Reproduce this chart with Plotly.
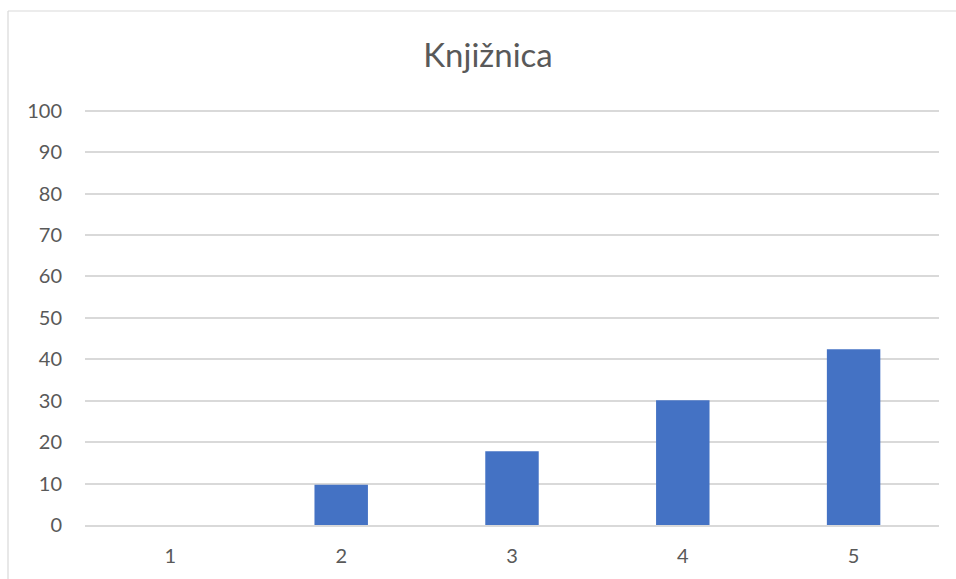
import plotly.graph_objects as go

# Knjižnica - vrijednosti po kategoriji
categories = ["1", "2", "3", "4", "5"]
values = [0, 9.7, 17.8, 30.1, 42.4]
y_ticks = list(range(0, 101, 10))

BAR_COLOR = "#4472C4"
GRID = "#D9D9D9"
TEXT = "#595959"
FONT = "Lato"

W, H = 956, 579
L, R, T, B = 85, 17, 109, 54

fig = go.Figure(
    go.Bar(x=categories, y=values, marker_color=BAR_COLOR, marker_line_width=0)
)

fig.update_layout(
    width=W,
    height=H,
    margin=dict(l=L, r=R, t=T, b=B),
    paper_bgcolor="white",
    plot_bgcolor="white",
    font=dict(family=FONT, color=TEXT, size=20),
    bargap=0.687,
    showlegend=False,
    title=dict(
        text="Knjižnica",
        font=dict(family=FONT, size=33, color=TEXT),
        xref="container", yref="container",
        x=488 / W, y=1 - 55 / H,
        xanchor="center", yanchor="middle",
    ),
)

fig.update_xaxes(
    type="category",
    showgrid=False, automargin=False,
    showline=True, linecolor=GRID, linewidth=1.5,
    ticks="", ticklabelstandoff=12,
    tickfont=dict(size=20, color=TEXT),
)
fig.update_yaxes(
    range=[0, 100.4],
    tickvals=y_ticks, automargin=False,
    showgrid=True, gridcolor=GRID, gridwidth=1.5,
    zeroline=False, showline=False,
    ticks="", ticklabelstandoff=22,
    tickfont=dict(size=20, color=TEXT),
)

# chart border (top and left edges visible in the crop)
pw, ph = W - L - R, H - T - B
bx = (8 - L) / pw
by = (H - B - 11) / ph
fig.add_shape(type="line", xref="paper", yref="paper",
              x0=bx, x1=2, y0=by, y1=by, line=dict(color=GRID, width=1.2))
fig.add_shape(type="line", xref="paper", yref="paper",
              x0=bx, x1=bx, y0=by, y1=-2, line=dict(color=GRID, width=1.2))

fig.write_html(
    "out.html",
    config={"displayModeBar": False},
    post_script="document.body.style.margin='0';document.body.style.overflow='hidden';",
)
